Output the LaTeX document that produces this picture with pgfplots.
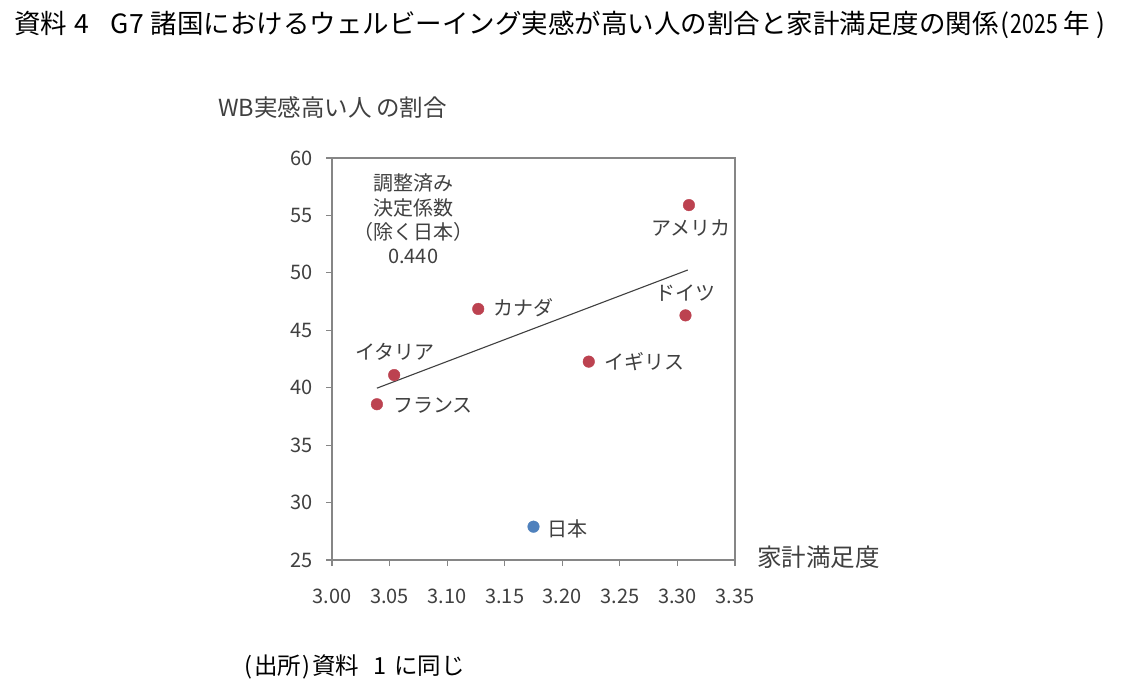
\documentclass[border=0pt]{standalone}
\usepackage{fontspec}
\setmainfont{Noto Sans CJK JP}
\usepackage{graphicx}
\usepackage{pgfplots}
\pgfplotsset{compat=1.18}
\definecolor{ptred}{RGB}{188,66,80}
\definecolor{ptblue}{RGB}{79,129,189}
\definecolor{txt}{RGB}{64,64,64}
\definecolor{frame}{RGB}{134,134,134}
\begin{document}
\begin{tikzpicture}[x=1pt,y=1pt]
\useasboundingbox[fill=white] (0,0) rectangle (1130,691);
\node[anchor=west,inner sep=0,font=\fontsize{26.5}{30}\selectfont] at (14,666) {資料\hspace{7pt}4\hspace{22pt}G7\hspace{7pt}諸国におけるウェルビーイング実感が高い人の割合と家計満足度の関係\makebox[12pt][c]{(}\scalebox{0.8}[1]{2025}\hspace{6pt}年\hspace{4pt}\makebox[14pt][c]{)}};
\node[anchor=west,inner sep=0,text=txt,font=\fontsize{23.5}{28}\selectfont] at (218,583) {WB実感高い人\hspace{0.2em}の割合};
\node[anchor=west,inner sep=0,text=txt,font=\fontsize{24.5}{28}\selectfont] at (757,134) {家計満足度};
\node[anchor=west,inner sep=0,font=\fontsize{23.5}{26}\selectfont] at (243,24) {\makebox[11pt][c]{(}出所\makebox[11pt][c]{)}資料\hspace{14pt}1\hspace{8pt}に同じ};
\begin{axis}[
  at={(332pt,131pt)}, anchor=south west,
  scale only axis, width=403pt, height=402pt,
  xmin=3.00, xmax=3.35, ymin=25, ymax=60,
  xtick={3.00,3.05,...,3.35}, ytick={25,30,...,60},
  xticklabel style={yshift=-19pt,/pgf/number format/.cd,fixed,fixed zerofill,precision=2},
  yticklabel style={xshift=-10pt},
  /pgf/number format/assume math mode=true,
  tick label style={text=txt,font=\fontsize{20}{24}\selectfont},
  axis line style={frame,line width=1.5pt},
  every tick/.style={frame,line width=1.2pt},
  tick align=outside, major tick length=6pt,
  xtick pos=bottom, ytick pos=left,
  clip=false,
]
\addplot[only marks, mark=*, mark size=5.8pt, ptred, mark options={draw=ptred,fill=ptred}] coordinates {
  (3.310,55.9) (3.307,46.3) (3.223,42.27) (3.127,46.86) (3.054,41.1) (3.039,38.56)
};
\addplot[only marks, mark=*, mark size=5.8pt, ptblue, mark options={draw=ptblue,fill=ptblue}] coordinates {
  (3.175,27.9)
};
\addplot[no marks, color=black!75, line width=1.1pt] coordinates {(3.039,39.96) (3.309,50.25)};
\begin{scope}[every node/.style={text=txt,inner sep=1pt,font=\fontsize{20}{24}\selectfont}]
\node at (axis cs:3.3117,53.91) {アメリカ};
\node[fill=white] at (axis cs:3.307,48.25) {ドイツ};
\node[anchor=west] at (axis cs:3.236,42.25) {イギリス};
\node[anchor=west] at (axis cs:3.139,46.95) {カナダ};
\node at (axis cs:3.055,43.12) {イタリア};
\node[anchor=west] at (axis cs:3.052,38.42) {フランス};
\node[anchor=west] at (axis cs:3.186,27.71) {日本};
\node[align=center,font=\fontsize{20}{24.3}\selectfont] at (axis cs:3.0705,54.69) {調整済み\\決定係数\\（除く日本）\\0.440};
\end{scope}
\end{axis}
\end{tikzpicture}
\end{document}
